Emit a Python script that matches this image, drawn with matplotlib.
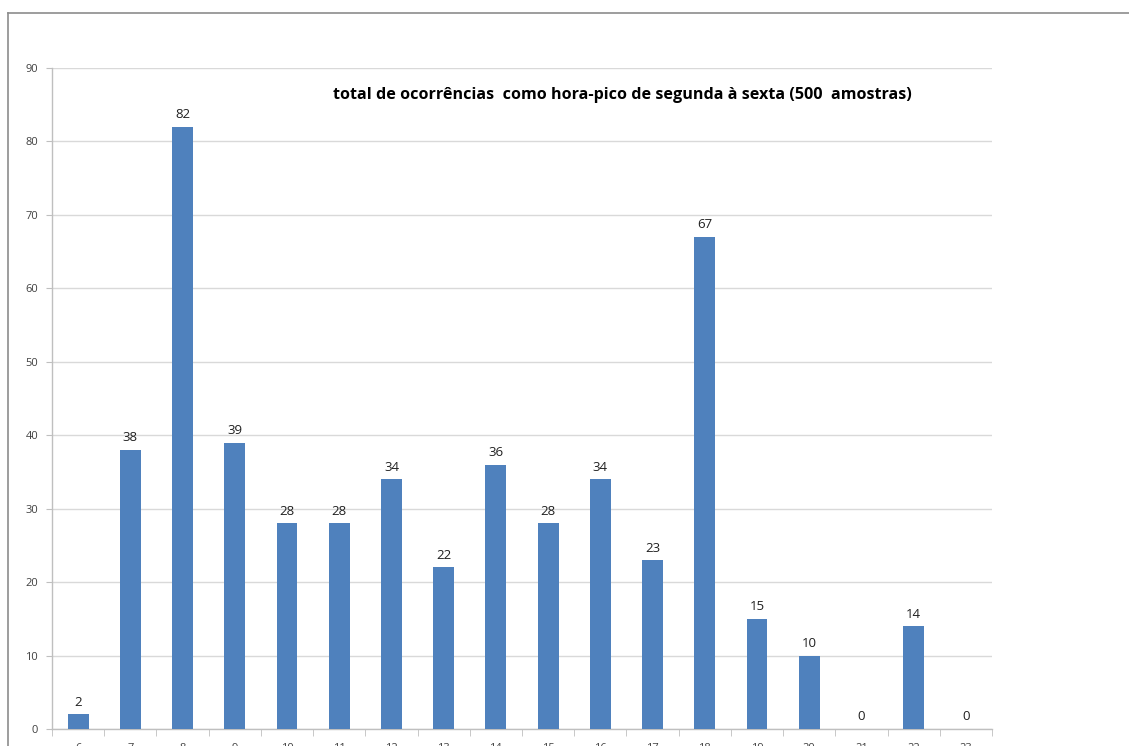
import matplotlib
matplotlib.use("Agg")
import matplotlib.pyplot as plt
from matplotlib.lines import Line2D
import numpy as np

hours = [6, 7, 8, 9, 10, 11, 12, 13, 14, 15, 16, 17, 18, 19, 20, 21, 22, 23]
counts = [2, 38, 82, 39, 28, 28, 34, 22, 36, 28, 34, 23, 67, 15, 10, 0, 14, 0]
y_ticks = [0, 10, 20, 30, 40, 50, 60, 70, 80, 90]
title = "total de ocorrências  como hora-pico de segunda à sexta (500  amostras)"

W, H = 1129, 746
fig = plt.figure(figsize=(W / 100, H / 100), dpi=100)
fig.patch.set_facecolor("white")

# outer chart frame (top and left edges)
fig.add_artist(Line2D([8 / W, 8 / W], [0, 1 - 13 / H], color="#8c8c8c", lw=1.2,
                      transform=fig.transFigure))
fig.add_artist(Line2D([8 / W, 1], [1 - 13 / H, 1 - 13 / H], color="#8c8c8c", lw=1.2,
                      transform=fig.transFigure))

ax = fig.add_axes([52 / W, (H - 729) / H, (992 - 52) / W, (729 - 68) / H])
x = np.arange(len(hours))
ax.bar(x, counts, width=0.4, color="#4F81BD", zorder=3)

ax.set_xlim(-0.5, len(hours) - 0.5)
ax.set_ylim(0, 90)
ax.set_yticks(y_ticks)
ax.set_yticklabels([str(v) for v in y_ticks], fontsize=8, color="#404040",
                   family="Open Sans")
ax.yaxis.grid(True, color="#d9d9d9", lw=1, zorder=0)
ax.tick_params(axis="y", length=4, color="#bfbfbf", pad=6)

ax.set_xticks(x)
ax.set_xticklabels([str(h) for h in hours], fontsize=8, color="#404040",
                   family="Open Sans")
ax.set_xticks(np.arange(-0.5, len(hours), 1), minor=True)
ax.tick_params(axis="x", which="major", length=0, pad=10)
ax.tick_params(axis="x", which="minor", length=5, color="#bfbfbf")

for s in ["top", "right"]:
    ax.spines[s].set_visible(False)
for s in ["left", "bottom"]:
    ax.spines[s].set_color("#bfbfbf")
    ax.spines[s].set_linewidth(1)

for xi, v in zip(x, counts):
    ax.annotate(str(v), (xi, v), xytext=(0, 4), textcoords="offset points",
                ha="center", va="bottom", fontsize=9.5, color="#202020",
                family="Open Sans")

fig.text(622 / W, 1 - 95 / H, title, ha="center", va="center", fontsize=11.6,
         fontweight="bold", family="Open Sans", color="#000000")

fig.savefig("out.png", dpi=100)
